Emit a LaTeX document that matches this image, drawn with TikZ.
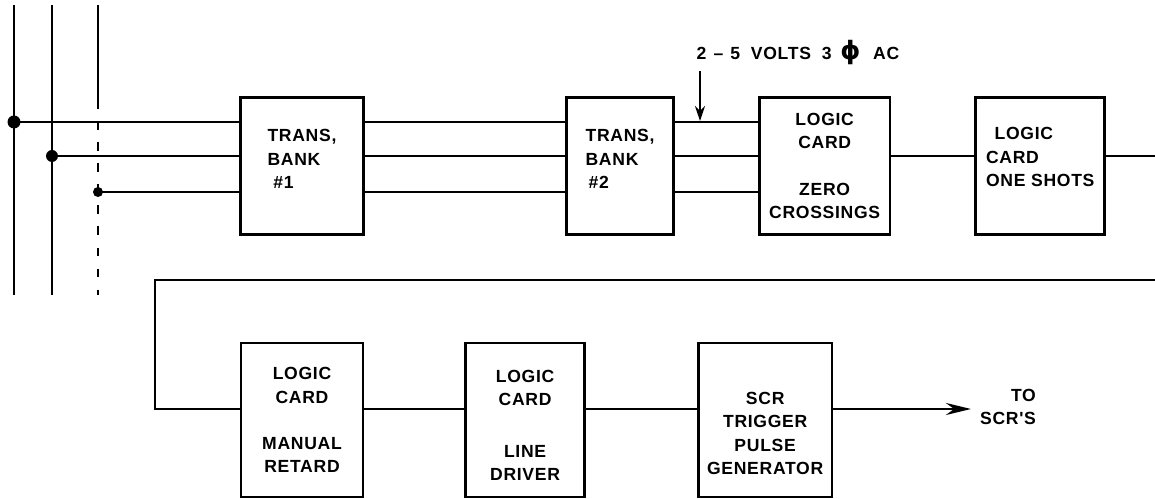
\documentclass[tikz,border=0pt]{standalone}
\usepackage{fontspec}
\newfontfamily\lettering[LetterSpace=4]{Liberation Sans}
\newfontfamily\greekfont{DejaVu Sans}
\usetikzlibrary{positioning, arrows.meta}

\begin{document}
\begin{tikzpicture}[
    x=0.02cm, y=-0.02cm,
    block/.style={rectangle, draw, line width=1.5pt, minimum height=2.74cm, align=center, font=\lettering\bfseries\fontsize{10}{13.3}\selectfont},
    lowblock/.style={block, minimum height=3.08cm},
    wire/.style={line width=1.6pt},
    lbl/.style={font=\lettering\bfseries\fontsize{10}{13.3}\selectfont},
    arr/.style={-{Stealth[length=5mm, width=2.4mm]}, line width=1.6pt},
  ]
    \useasboundingbox (0,0) rectangle (1155,499);

    % three phase supply
    \coordinate (pa) at (14,122);
    \coordinate (pb) at (52,156);
    \coordinate (pc) at (98,192);
    \draw[wire] (14,5) -- (14,295);
    \draw[wire] (52,5) -- (52,295);
    \draw[line width=1.1pt] (98,5) -- (98,100);
    \draw[line width=1.1pt, dash pattern=on 5pt off 7pt] (98,100) -- (98,295);
    \fill (pa) circle (6.5);
    \fill (pb) circle (6);
    \fill (pc) circle (5);

    % top row
    \node[block, minimum width=2.46cm, align=left] (tb1) at (302,166) {TRANS,\\BANK\\\,\,\#1\\[-5.3pt]{}};
    \node[block, minimum width=2.14cm, align=left, right=4.01cm of tb1] (tb2) {TRANS,\\BANK\\\,\#2\\[-5.3pt]{}};
    \node[block, minimum width=2.62cm, right=1.66cm of tb2] (zc) {LOGIC\\CARD\\[13pt]ZERO\\CROSSINGS};
    \node[block, minimum width=2.58cm, align=left, right=1.66cm of zc] (os) {\ \,LOGIC\\CARD\\ONE SHOTS\\[-3.3pt]{}};

    \draw[wire] (pa) -- (pa -| tb1.west);
    \draw[wire] (pb) -- (pb -| tb1.west);
    \draw[wire] (pc) -- (pc -| tb1.west);
    \draw[wire] (pa -| tb1.east) -- (pa -| tb2.west);
    \draw[wire] (pb -| tb1.east) -- (pb -| tb2.west);
    \draw[wire] (pc -| tb1.east) -- (pc -| tb2.west);
    \draw[wire] (pa -| tb2.east) -- (pa -| zc.west);
    \draw[wire] (pb -| tb2.east) -- (pb -| zc.west);
    \draw[wire] (pc -| tb2.east) -- (pc -| zc.west);
    \draw[wire] (pb -| zc.east) -- (pb -| os.west);
    \coordinate (edgeA) at (1155,156);
    \draw[wire] (pb -| os.east) -- (edgeA);

    \node[lbl] (acin) at (798,53) {2\hspace{4pt}–\hspace{4pt}5\hspace{3pt} VOLTS\hspace{3pt} 3\hspace{5pt}{\greekfont\bfseries\Large ϕ}\hspace{4pt} AC};
    \coordinate (tap) at (700,121);
    \draw[-{Stealth[length=3mm, width=2mm]}, line width=1.3pt] (tap |- acin.south) -- (tap);

    % bottom row
    \node[lowblock, minimum width=2.44cm] (mr) at (302,420) {LOGIC\\CARD\\[13pt]MANUAL\\RETARD};
    \node[lowblock, minimum width=2.38cm, right=2.0cm of mr] (ld) {{}\\LOGIC\\CARD\\[16pt]LINE\\DRIVER};
    \node[lowblock, minimum width=2.68cm, right=2.22cm of ld] (scr) {{}\\[9pt]SCR\\TRIGGER\\PULSE\\GENERATOR};
    \node[lbl, align=right, inner xsep=5pt] (scrs) at (1008,407) {TO\\SCR'S};

    \coordinate (edgeB) at (1155,280);
    \coordinate (lvl) at (155,409);
    \draw[wire] (edgeB) -- (155,280) |- (lvl -| mr.west);
    \draw[wire] (lvl -| mr.east) -- (lvl -| ld.west);
    \draw[wire] (lvl -| ld.east) -- (lvl -| scr.west);
    \draw[arr] (lvl -| scr.east) -- (lvl -| scrs.west);
  \end{tikzpicture}
\end{document}
